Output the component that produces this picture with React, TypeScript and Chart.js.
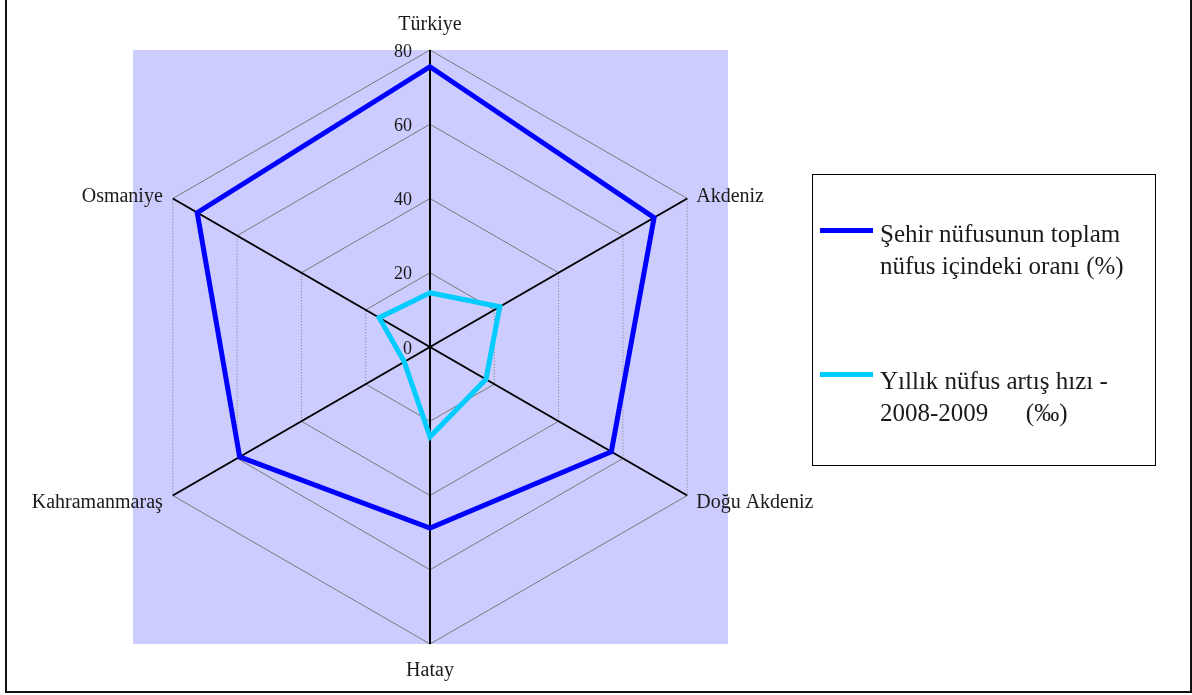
import React, { useEffect, useRef } from "react";
import { Chart, registerables } from "chart.js";

Chart.register(...registerables);

const categories = ["Türkiye", "Akdeniz", "Doğu Akdeniz", "Hatay", "Kahramanmaraş", "Osmaniye"];
const sehirNufusu = [75.5, 69.7, 56.4, 48.8, 59.2, 72.4];
const artisHizi = [14.6, 21.7, 17.4, 24.2, 8.0, 15.8];
const tickValues = [0, 20, 40, 60, 80];
const seriesNames = ["Şehir nüfusunun toplam nüfus içindeki oranı (%)", "Yıllık nüfus artış hızı - 2008-2009 (‰)"];

const SERIF = '"Liberation Serif", "DejaVu Serif", serif';

const radarDecor = {
  id: "radarDecor",
  beforeDraw(chart: any) {
    const scale = chart.scales.r;
    const ctx = chart.ctx;
    const cx = scale.xCenter;
    const cy = scale.yCenter;
    const r = scale.drawingArea;
    ctx.save();
    // plot background
    ctx.fillStyle = "#CCCCFF";
    ctx.fillRect(cx - r, cy - r, 2 * r + 1, 2 * r);
    // rings
    ctx.strokeStyle = "#7a7a7a";
    ctx.lineWidth = 1;
    const n = categories.length;
    tickValues.forEach((v) => {
      if (v === 0) return;
      for (let i = 0; i < n; i++) {
        const a = scale.getPointPositionForValue(i, v);
        const b = scale.getPointPositionForValue((i + 1) % n, v);
        const vertical = Math.abs(a.x - b.x) < 1;
        ctx.setLineDash(vertical ? [1, 2] : []);
        ctx.beginPath();
        ctx.moveTo(a.x, a.y);
        ctx.lineTo(b.x, b.y);
        ctx.stroke();
      }
    });
    ctx.setLineDash([]);
    // tick labels
    ctx.fillStyle = "#1a1a1a";
    ctx.font = `18px ${SERIF}`;
    ctx.textAlign = "right";
    ctx.textBaseline = "middle";
    tickValues.forEach((v) => {
      const d = scale.getDistanceFromCenterForValue(v);
      ctx.fillText(String(v), cx - 18, cy - d + 2);
    });
    // point labels
    ctx.font = `20px ${SERIF}`;
    ctx.textBaseline = "alphabetic";
    categories.forEach((label, i) => {
      const p = scale.getPointPosition(i, r);
      let x = p.x;
      let y = p.y;
      if (Math.abs(p.x - cx) < 1) {
        ctx.textAlign = "center";
        y = p.y < cy ? p.y - 20 : p.y + 32;
      } else {
        if (p.x > cx) {
          ctx.textAlign = "left";
          x = p.x + 9;
        } else {
          ctx.textAlign = "right";
          x = p.x - 10;
        }
        y = p.y < cy ? p.y + 3 : p.y + 12;
      }
      ctx.fillText(label, x, y);
    });
    ctx.restore();
  },
};

export default function App() {
  const canvasRef = useRef<HTMLCanvasElement | null>(null);

  useEffect(() => {
    if (!canvasRef.current) return;
    const chart = new Chart(canvasRef.current, {
      type: "radar",
      data: {
        labels: categories,
        datasets: [
          {
            label: seriesNames[0],
            data: sehirNufusu,
            borderColor: "#0000FF",
            backgroundColor: "rgba(0,0,0,0)",
            borderWidth: 5,
            fill: false,
            pointRadius: 0,
            pointHoverRadius: 0,
            borderJoinStyle: "miter",
          },
          {
            label: seriesNames[1],
            data: artisHizi,
            borderColor: "#00CCFF",
            backgroundColor: "rgba(0,0,0,0)",
            borderWidth: 5,
            fill: false,
            pointRadius: 0,
            pointHoverRadius: 0,
            borderJoinStyle: "miter",
          },
        ],
      },
      options: {
        responsive: false,
        animation: false,
        devicePixelRatio: 1,
        layout: { padding: { left: 133, right: 133, top: 50, bottom: 51 } },
        plugins: { legend: { display: false }, tooltip: { enabled: false } },
        scales: {
          r: {
            min: 0,
            max: 80,
            ticks: { stepSize: 20, display: false },
            grid: { display: false },
            angleLines: { display: true, color: "#000", lineWidth: 2 },
            pointLabels: { display: false },
          },
        },
      } as any,
      plugins: [radarDecor],
    });
    return () => chart.destroy();
  }, []);

  const legendText: React.CSSProperties = {
    position: "absolute",
    left: 880,
    fontFamily: SERIF,
    fontSize: 25,
    lineHeight: "32px",
    color: "#1a1a1a",
    whiteSpace: "pre",
  };

  return (
    <div style={{ position: "fixed", left: 0, top: 0, width: 1192, height: 695, background: "#fff", overflow: "hidden" }}>
      <div
        style={{
          position: "absolute",
          left: 5,
          top: -10,
          width: 1187,
          height: 703,
          border: "2px solid #111",
          boxSizing: "border-box",
        }}
      />
      <canvas ref={canvasRef} width={860} height={695} style={{ position: "absolute", left: 0, top: 0, width: 860, height: 695 }} />
      <div
        style={{
          position: "absolute",
          left: 812,
          top: 174,
          width: 344,
          height: 292,
          border: "1.5px solid #000",
          boxSizing: "border-box",
        }}
      />
      <div style={{ position: "absolute", left: 820, top: 228, width: 53, height: 5, background: "#0000FF" }} />
      <div style={{ ...legendText, top: 218 }}>{"Şehir nüfusunun toplam\nnüfus içindeki oranı (%)"}</div>
      <div style={{ position: "absolute", left: 820, top: 372, width: 53, height: 5, background: "#00CCFF" }} />
      <div style={{ ...legendText, top: 365 }}>{"Yıllık nüfus artış hızı -\n2008-2009      (‰)"}</div>
    </div>
  );
}
